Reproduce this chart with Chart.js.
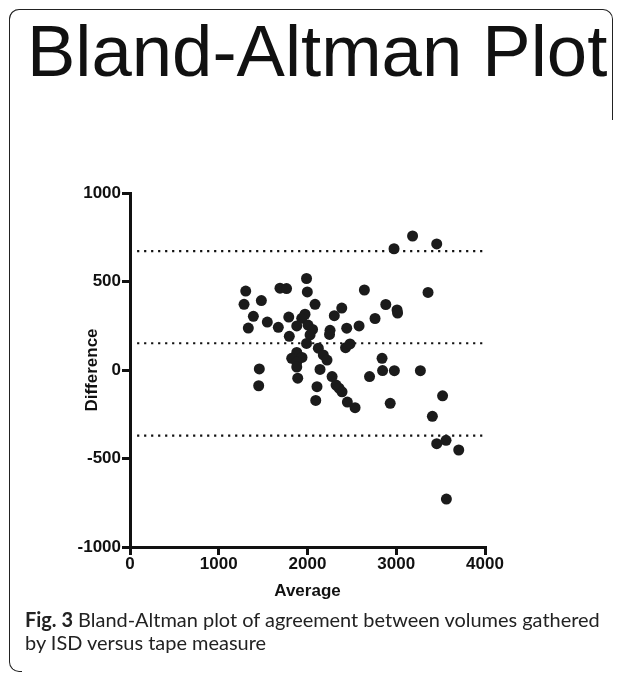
<!DOCTYPE html>
<html>
<head>
<meta charset="utf-8">
<script src="https://cdn.jsdelivr.net/npm/chart.js@4.4.1/dist/chart.umd.min.js"></script>
<style>
  body { margin: 0; width: 627px; height: 674px; background: #fff; position: relative; overflow: hidden; }
  #frameTop { position: absolute; left: 9px; top: 9px; width: 602px; height: 110px; border: 1.5px solid #222; border-bottom: none; border-radius: 10px 10px 0 0; }
  #frameLeft { position: absolute; left: 9px; top: 9px; width: 12px; height: 662px; border-left: 1.5px solid #222; border-bottom: 1.5px solid #222; border-radius: 10px 0 0 10px; border-top: none; }
  #title { position: absolute; left: 27px; top: 14px; font: 72.5px/74px "Liberation Sans", Arial, sans-serif; color: #111; white-space: nowrap; }
  #caption { position: absolute; left: 25px; top: 608px; font-family: Lato, "Noto Sans", sans-serif; font-size: 19px; line-height: 22.5px; color: #222; white-space: nowrap; }
  #caption b { font-weight: bold; }
  canvas { position: absolute; left: 0; top: 0; }
</style>
</head>
<body>
<div id="frameTop"></div>
<div id="frameLeft"></div>
<div id="title">Bland-Altman Plot</div>
<canvas id="baPlot" width="627" height="674"></canvas>
<div id="caption"><span id="capLine1"><b>Fig. 3</b> Bland-Altman plot of agreement between volumes gathered</span><br>by ISD versus tape measure</div>

<script>
// mean of the two methods (x) and their difference (y)
const averages = [
  3184, 2975, 3456, 1989, 1304, 1690, 1764, 1998, 2641, 3358,
  1285, 1480, 2085, 2882, 2386, 3009, 3015, 1390, 1547, 1789,
  1972, 1935, 2302, 2761, 1333, 1671, 1879, 2006, 2057, 2029,
  2254, 2248, 2442, 2581, 1795, 1989, 2429, 2479, 2122, 2178,
  2220, 1879, 1822, 1938, 1879, 1879, 1457, 2141, 2840, 2846,
  2979, 3272, 1890, 2277, 2699, 1450, 2322, 2355, 2389, 2107,
  2093, 2449, 2536, 2932, 3522, 3407, 3456, 3561, 3704, 3565
];
const differences = [
  757, 685, 712, 517, 446, 462, 460, 441, 452, 438,
  371, 392, 371, 370, 350, 339, 322, 303, 271, 299,
  315, 292, 307, 291, 237, 241, 249, 254, 229, 198,
  224, 201, 236, 249, 190, 150, 126, 147, 123, 85,
  56, 99, 66, 71, 45, 17, 6, 3, 66, -3,
  -4, -4, -46, -37, -37, -89, -85, -103, -123, -94,
  -172, -181, -213, -188, -146, -262, -416, -397, -452, -729
];

// bias and limits of agreement
const limitValues = [672, 151, -371];
const limitRange = [80, 4000];

const xTicks = [0, 1000, 2000, 3000, 4000];
const yTicks = [-1000, -500, 0, 500, 1000];

const ink = "#111";
const tickFont = { family: "'Liberation Sans', Arial, sans-serif", size: 17, weight: "bold" };
const titleFont = { family: "'Liberation Sans', Arial, sans-serif", size: 17, weight: "bold" };

function fixedTicks(values) {
  return (scale) => {
    scale.ticks = values.map((v) => ({ value: v }));
  };
}

function noPadding(size, prop) {
  return (scale) => {
    scale[prop] = size;
    scale.paddingTop = 0;
    scale.paddingBottom = 0;
    scale.paddingLeft = 0;
    scale.paddingRight = 0;
  };
}

const plainLabel = (value) => String(value);

const points = averages.map((x, i) => ({ x: x, y: differences[i] }));

const limitSets = limitValues.map((v) => ({
  type: "line",
  data: limitRange.map((x) => ({ x: x, y: v })),
  borderColor: ink,
  borderWidth: 2.2,
  borderDash: [2.2, 4.8],
  pointRadius: 0,
  fill: false,
}));

new Chart(document.getElementById("baPlot"), {
  type: "scatter",
  data: {
    datasets: [
      {
        data: points,
        backgroundColor: "#1b1b1b",
        borderWidth: 0,
        pointRadius: 5.5,
      },
      ...limitSets,
    ],
  },
  options: {
    responsive: false,
    animation: false,
    layout: { padding: { top: 193, left: 0, right: 142, bottom: 0 } },
    plugins: { legend: { display: false }, tooltip: { enabled: false } },
    scales: {
      x: {
        type: "linear",
        min: 0,
        max: 4000,
        afterBuildTicks: fixedTicks(xTicks),
        afterFit: noPadding(127, "height"),
        ticks: { color: ink, font: tickFont, padding: -1, maxRotation: 0, callback: plainLabel },
        grid: { drawOnChartArea: false, drawTicks: true, tickLength: 8, color: ink, lineWidth: 3 },
        border: { display: true, color: ink, width: 3 },
        title: { display: true, text: "Average", color: ink, font: titleFont, padding: { top: 0, bottom: 72 } },
      },
      y: {
        type: "linear",
        min: -1000,
        max: 1000,
        afterBuildTicks: fixedTicks(yTicks),
        afterFit: noPadding(130, "width"),
        ticks: { color: ink, font: tickFont, padding: 1, callback: plainLabel },
        grid: { drawOnChartArea: false, drawTicks: true, tickLength: 8, color: ink, lineWidth: 3 },
        border: { display: true, color: ink, width: 3 },
        title: { display: true, text: "Difference", color: ink, font: titleFont, padding: { top: 82, bottom: 0 } },
      },
    },
  },
});

// fit caption first line to the width it has in the figure
const line1 = document.getElementById("capLine1");
const caption = document.getElementById("caption");
const w = line1.getBoundingClientRect().width;
caption.style.fontSize = (19 * 575 / w).toFixed(2) + "px";
</script>
</body>
</html>
